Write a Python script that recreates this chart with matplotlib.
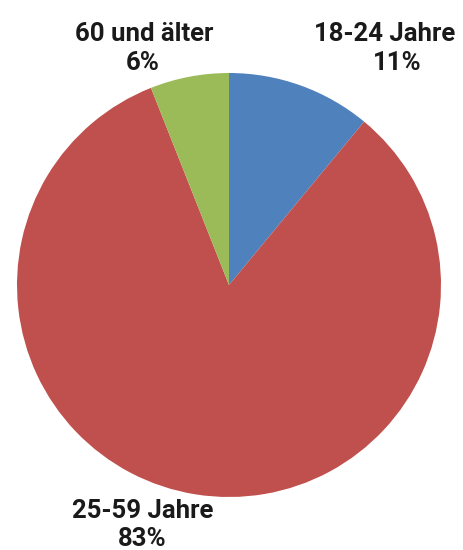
import matplotlib
matplotlib.use("Agg")
import matplotlib.pyplot as plt

# ── data ────────────────────────────────────────────────────────────────
labels = ["18-24 Jahre", "25-59 Jahre", "60 und älter"]
shares = [11, 83, 6]
colors = ["#4F81BD", "#C0504D", "#9BBB59"]

W, H = 464, 550

fig = plt.figure(figsize=(W / 100, H / 100), dpi=100)
ax = fig.add_axes([0, 0, 1, 1])
ax.set_xlim(0, W)
ax.set_ylim(0, H)
ax.set_aspect("equal")
ax.axis("off")

ax.pie(shares, colors=colors, startangle=90, counterclock=False,
       center=(229, H - 285), radius=212,
       wedgeprops=dict(linewidth=0))
ax.set_xlim(0, W)
ax.set_ylim(0, H)

# label anchors: (name x, name baseline, value x, value baseline), top-left origin
label_pos = {
    "18-24 Jahre": (385, 41, 397, 70),
    "25-59 Jahre": (143, 518, 142, 546),
    "60 und älter": (144, 41, 143, 70),
}
font = dict(family=["Roboto", "DejaVu Sans"], fontweight="bold",
            fontsize=18.5, color="#1a1a1a", ha="center", va="baseline")
for lab, val in zip(labels, shares):
    x1, y1, x2, y2 = label_pos[lab]
    ax.text(x1, H - y1, lab, **font)
    ax.text(x2, H - y2, f"{val}%", **font)

fig.savefig("out.png", dpi=100, facecolor="white")
